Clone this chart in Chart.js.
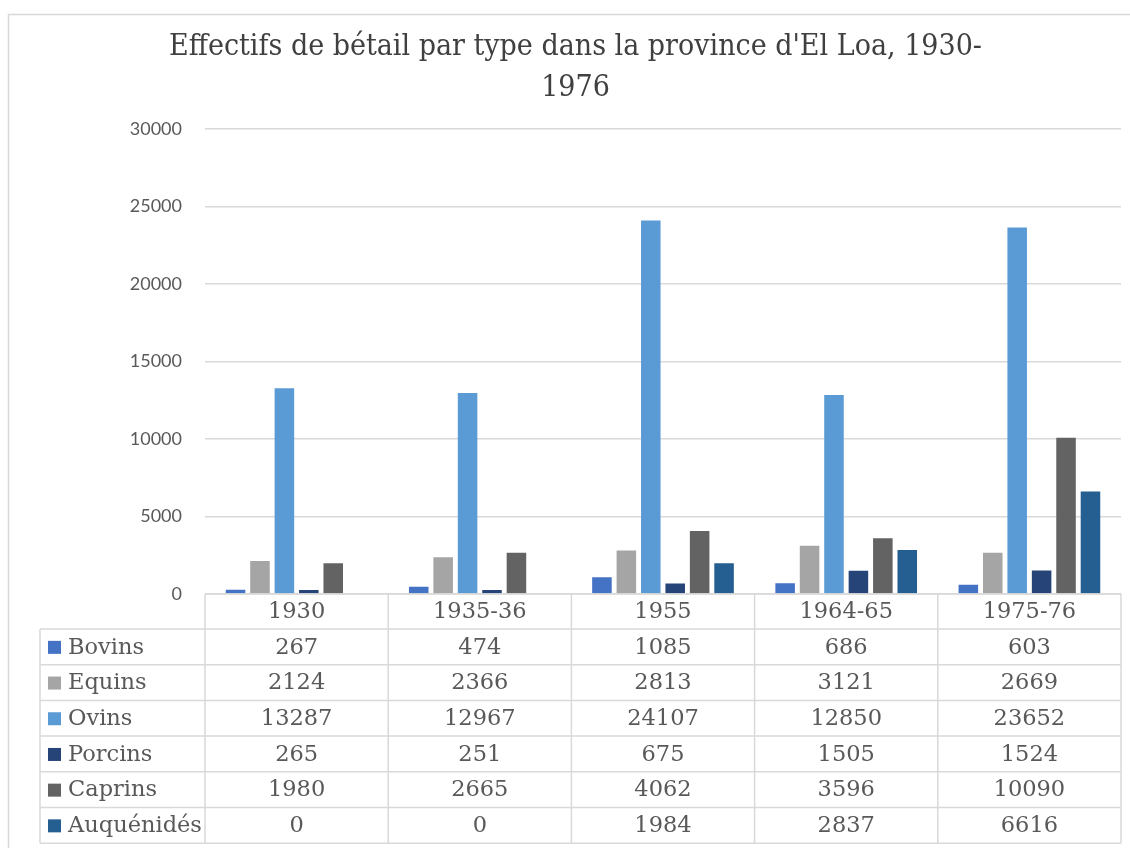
<!DOCTYPE html>
<html>
<head>
<meta charset="utf-8">
<script src="https://cdn.jsdelivr.net/npm/chart.js"></script>
<style>
  html, body { margin: 0; background: #fff; }
</style>
</head>
<body>
<canvas id="chart" width="1130" height="848"></canvas>
<script>
// periods on the x axis
var periods = ["1930", "1935-36", "1955", "1964-65", "1975-76"];

// head counts per livestock type
var bovins = [267, 474, 1085, 686, 603];
var equins = [2124, 2366, 2813, 3121, 2669];
var ovins = [13287, 12967, 24107, 12850, 23652];
var porcins = [265, 251, 675, 1505, 1524];
var caprins = [1980, 2665, 4062, 3596, 10090];
var auquenides = [0, 0, 1984, 2837, 6616];

var seriesNames = ["Bovins", "Equins", "Ovins", "Porcins", "Caprins", "Auquénidés"];
var seriesColors = ["#4472C4", "#A5A5A5", "#5B9BD5", "#264478", "#636363", "#255E91"];
var seriesValues = [bovins, equins, ovins, porcins, caprins, auquenides];

var yMax = 30000;
var yStep = 5000;

// outer frame of the chart object
var frame = {
    id: "frame",
    beforeDraw: function(chart) {
        var ctx = chart.ctx;
        ctx.save();
        ctx.fillStyle = "#fff";
        ctx.fillRect(0, 0, chart.width, chart.height);
        ctx.strokeStyle = "#d9d9d9";
        ctx.lineWidth = 1.5;
        ctx.strokeRect(8.5, 14.5, chart.width + 20, chart.height + 20);
        ctx.restore();
    }
};

// data table under the plot, column edges come from the x scale
var dataTable = {
    id: "dataTable",
    afterDraw: function(chart) {
        var ctx = chart.ctx;
        var area = chart.chartArea;
        var xs = chart.scales.x;
        var colW = area.width / periods.length;
        var headH = 35;
        var rowH = 35.7;
        var top = area.bottom;
        var legendLeft = 40;
        var rowsTop = top + headH;
        var bottom = rowsTop + rowH * seriesNames.length;

        ctx.save();
        ctx.strokeStyle = "#d9d9d9";
        ctx.lineWidth = 1.5;
        ctx.beginPath();
        ctx.moveTo(area.left, top);
        ctx.lineTo(area.right, top);
        for (var r = 0; r <= seriesNames.length; r++) {
            ctx.moveTo(legendLeft, rowsTop + r * rowH);
            ctx.lineTo(area.right, rowsTop + r * rowH);
        }
        ctx.moveTo(legendLeft, rowsTop);
        ctx.lineTo(legendLeft, bottom);
        for (var c = 0; c <= periods.length; c++) {
            var cx = area.left + c * colW;
            ctx.moveTo(cx, top);
            ctx.lineTo(cx, bottom);
        }
        ctx.stroke();

        ctx.fillStyle = "#595959";
        ctx.font = "22.5px 'DejaVu Serif'";
        ctx.textAlign = "center";
        ctx.textBaseline = "middle";
        periods.forEach(function(p, i) {
            ctx.fillText(p, xs.getPixelForValue(i), top + headH / 2 + 1);
        });

        seriesNames.forEach(function(name, r) {
            var cy = rowsTop + r * rowH + rowH / 2 + 1;
            ctx.fillStyle = seriesColors[r];
            ctx.fillRect(48, cy - 7, 13, 13);
            ctx.fillStyle = "#595959";
            ctx.textAlign = "left";
            ctx.fillText(name, 68, cy);
            ctx.textAlign = "center";
            seriesValues[r].forEach(function(v, i) {
                ctx.fillText(String(v), xs.getPixelForValue(i), cy);
            });
        });
        ctx.restore();
    }
};

new Chart(document.getElementById("chart"), {
    type: "bar",
    data: {
        labels: periods,
        datasets: seriesNames.map(function(name, i) {
            return {
                label: name,
                data: seriesValues[i],
                backgroundColor: seriesColors[i],
                borderWidth: 0,
                categoryPercentage: 0.8,
                barPercentage: 0.8
            };
        })
    },
    options: {
        responsive: false,
        animation: false,
        layout: {
            padding: { left: 30, right: 9, top: 0, bottom: 254 }
        },
        plugins: {
            legend: { display: false },
            tooltip: { enabled: false },
            title: {
                display: true,
                text: ["Effectifs de bétail par type dans la province d'El Loa, 1930-", "1976"],
                color: "#404040",
                font: { family: "'DejaVu Serif Condensed', 'Liberation Serif'", size: 30, weight: "normal", lineHeight: 1.37 },
                padding: { top: 27, bottom: 20 }
            }
        },
        scales: {
            x: {
                display: false
            },
            y: {
                min: 0,
                max: yMax,
                ticks: {
                    stepSize: yStep,
                    color: "#595959",
                    padding: 23,
                    font: { family: "Lato", size: 18 },
                    callback: function(v) { return String(v); }
                },
                grid: {
                    color: "#d9d9d9",
                    lineWidth: 1.5,
                    drawTicks: false
                },
                border: { display: false },
                afterFit: function(scale) { scale.width = 175; }
            }
        }
    },
    plugins: [frame, dataTable]
});
</script>
</body>
</html>
